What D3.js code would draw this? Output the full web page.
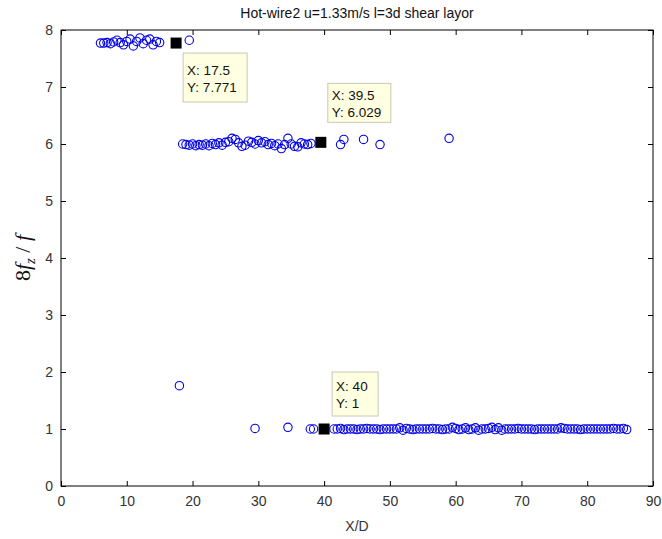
<!DOCTYPE html>
<html>
<head>
<meta charset="utf-8">
<script src="https://cdn.jsdelivr.net/npm/d3@7"></script>
<style>
  body { margin: 0; background: #fff; overflow: hidden; }
  svg { display: block; font-family: "Liberation Sans", Arial, sans-serif; }
</style>
</head>
<body>
<svg></svg>
<script>
const titleText = "Hot-wire2 u=1.33m/s l=3d shear layor";
const xLabelText = "X/D";

const xTicks = [0, 10, 20, 30, 40, 50, 60, 70, 80, 90];
const yTicks = [0, 1, 2, 3, 4, 5, 6, 7, 8];

// upper band, 8fz/f ~ 7.8
const highX = [6, 6.5, 7, 7.5, 8, 8.5, 9, 9.5, 10, 10.5, 11, 11.5, 12, 12.5, 13, 13.5, 14, 14.5, 15, 19.5];
const highY = [7.77, 7.77, 7.78, 7.76, 7.79, 7.82, 7.78, 7.74, 7.8, 7.84, 7.72, 7.8, 7.86, 7.76, 7.82, 7.84, 7.74, 7.8, 7.78, 7.82];

// middle band, 8fz/f ~ 6
const midX = [18.5, 19, 19.5, 20, 20.5, 21, 21.5, 22, 22.5, 23, 23.5, 24, 24.5, 25, 25.5, 26, 26.5, 27, 27.5, 28,
  28.5, 29, 29.5, 30, 30.5, 31, 31.5, 32, 32.5, 33, 33.5, 34, 34.5, 35, 35.5, 36, 36.5, 37, 37.5, 38,
  42.5, 43, 46, 48.5, 59];
const midY = [6.0, 5.99, 5.98, 6.0, 5.97, 5.99, 5.98, 6.0, 5.97, 6.01, 5.99, 6.02, 5.98, 6.03, 6.04, 6.1, 6.08, 6.02, 5.96, 5.98,
  6.05, 6.03, 6.0, 6.06, 6.02, 6.04, 5.99, 6.01, 5.97, 6.0, 5.92, 5.99, 6.1, 6.0, 5.96, 5.95, 6.02, 6.0, 5.99, 6.01,
  5.99, 6.08, 6.08, 5.99, 6.1];

// lower band, 8fz/f ~ 1
const lowX = [18, 29.5, 34.5, 37.9, 38.4,
  41.5, 42, 42.5, 43, 43.5, 44, 44.5, 45, 45.5, 46, 46.5, 47, 47.5, 48, 48.5, 49, 49.5, 50, 50.5, 51,
  51.5, 52, 52.5, 53, 53.5, 54, 54.5, 55, 55.5, 56, 56.5, 57, 57.5, 58, 58.5, 59, 59.5, 60, 60.5, 61,
  61.5, 62, 62.5, 63, 63.5, 64, 64.5, 65, 65.5, 66, 66.5, 67, 67.5, 68, 68.5, 69, 69.5, 70, 70.5, 71,
  71.5, 72, 72.5, 73, 73.5, 74, 74.5, 75, 75.5, 76, 76.5, 77, 77.5, 78, 78.5, 79, 79.5, 80, 80.5, 81,
  81.5, 82, 82.5, 83, 83.5, 84, 84.5, 85, 85.5, 86];
const lowY = [1.76, 1.01, 1.03, 1.0, 1.0,
  1.0, 1.0, 1.01, 0.99, 1.0, 1.0, 1.0, 0.99, 1.0, 1.0, 1.01, 1.0, 1.0, 1.0, 0.99, 1.0, 1.0, 1.0, 1.0, 1.0,
  1.02, 0.98, 1.01, 1.0, 0.99, 1.0, 1.0, 1.0, 1.0, 1.0, 1.01, 1.0, 1.0, 0.99, 1.0, 1.0, 1.03, 1.01, 0.99, 1.0,
  1.02, 0.99, 1.0, 1.02, 0.98, 1.0, 1.0, 1.01, 1.03, 0.99, 1.02, 0.98, 1.0, 1.0, 1.0, 1.0, 1.01, 1.0, 1.0, 1.0,
  1.0, 0.99, 1.0, 1.0, 1.0, 1.0, 1.0, 1.0, 1.0, 1.02, 1.01, 1.0, 1.0, 1.0, 1.0, 0.99, 1.0, 1.0, 1.0, 1.0,
  1.0, 1.0, 1.0, 1.0, 1.0, 1.01, 1.0, 1.0, 1.01, 0.99];

// data tips
const tipX = [17.5, 39.5, 40];
const tipY = [7.771, 6.029, 1];
const tipLabels = [["X: 17.5", "Y: 7.771"], ["X: 39.5", "Y: 6.029"], ["X: 40", "Y: 1"]];

// box placement relative to the marked point
const tipBoxes = [
  { dx: 7, dy: 10, w: 64, h: 49 },
  { dx: 7, dy: -59, w: 63, h: 39 },
  { dx: 8, dy: -57, w: 46, h: 44 },
];

const full_width = 662;
const full_height = 539;
const margin = { top: 30, right: 9, bottom: 53, left: 61 };
const innerWidth = full_width - margin.left - margin.right;
const innerHeight = full_height - margin.top - margin.bottom;

const svg = d3.select("svg").attr("width", full_width).attr("height", full_height);

const xScale = d3.scaleLinear().domain([0, 90]).range([0, innerWidth]);
const yScale = d3.scaleLinear().domain([0, 8]).range([innerHeight, 0]);

const chart = svg.append("g").attr("transform", `translate(${margin.left},${margin.top})`);

const points = []
  .concat(highX.map((x, i) => [x, highY[i]]))
  .concat(midX.map((x, i) => [x, midY[i]]))
  .concat(lowX.map((x, i) => [x, lowY[i]]));

chart
  .selectAll("circle.pt")
  .data(points)
  .enter()
  .append("circle")
  .attr("class", "pt")
  .attr("cx", (d) => xScale(d[0]))
  .attr("cy", (d) => yScale(d[1]))
  .attr("r", 4.2)
  .attr("fill", "none")
  .attr("stroke", "#0000e6")
  .attr("stroke-width", 1.1);

// axes, ticks pointing inward
const styleAxis = (g) => {
  g.select(".domain").remove();
  g.selectAll(".tick line").attr("stroke", "#000");
  g.selectAll(".tick text").attr("fill", "#333").style("font-size", "14px");
};

chart.append("g")
  .attr("transform", `translate(0,${innerHeight})`)
  .call(d3.axisBottom(xScale).tickValues(xTicks).tickSizeInner(-5).tickSizeOuter(0).tickPadding(10))
  .call(styleAxis)
  .attr("font-family", null);

chart.append("g")
  .call(d3.axisTop(xScale).tickValues(xTicks).tickSizeInner(-5).tickSizeOuter(0).tickFormat(""))
  .call(styleAxis);

chart.append("g")
  .call(d3.axisLeft(yScale).tickValues(yTicks).tickSizeInner(-5).tickSizeOuter(0).tickPadding(8))
  .call(styleAxis)
  .attr("font-family", null);

chart.append("g")
  .attr("transform", `translate(${innerWidth},0)`)
  .call(d3.axisRight(yScale).tickValues(yTicks).tickSizeInner(-5).tickSizeOuter(0).tickFormat(""))
  .call(styleAxis);

chart.append("rect")
  .attr("width", innerWidth)
  .attr("height", innerHeight)
  .attr("fill", "none")
  .attr("stroke", "#000")
  .attr("stroke-width", 1);

// data tips
const tips = chart
  .selectAll("g.tip")
  .data(tipX.map((x, i) => ({ x, y: tipY[i], lines: tipLabels[i], box: tipBoxes[i] })))
  .enter()
  .append("g")
  .attr("class", "tip");

tips.append("rect")
  .attr("x", (d) => xScale(d.x) - 5.5)
  .attr("y", (d) => yScale(d.y) - 5.5)
  .attr("width", 11)
  .attr("height", 11)
  .attr("fill", "#000");

const boxes = tips.append("g")
  .attr("transform", (d) => `translate(${xScale(d.x) + d.box.dx},${yScale(d.y) + d.box.dy})`);

boxes.append("rect")
  .attr("width", (d) => d.box.w)
  .attr("height", (d) => d.box.h)
  .attr("fill", "#ffffe1")
  .attr("stroke", "#c8c8b4")
  .attr("stroke-width", 1);

boxes.selectAll("text")
  .data((d) => d.lines.map((t, i) => ({ t, i, h: d.box.h })))
  .enter()
  .append("text")
  .attr("x", 4)
  .attr("y", (d) => d.h / 2 + (d.i === 0 ? -3 : 14))
  .attr("font-size", "13.5px")
  .attr("fill", "#111")
  .text((d) => d.t);

// title and labels
svg.append("text")
  .attr("x", margin.left + innerWidth / 2)
  .attr("y", 18)
  .attr("text-anchor", "middle")
  .attr("font-size", "14px")
  .attr("fill", "#111")
  .text(titleText);

svg.append("text")
  .attr("x", margin.left + innerWidth / 2)
  .attr("y", 531)
  .attr("text-anchor", "middle")
  .attr("font-size", "14px")
  .attr("fill", "#333")
  .text(xLabelText);

const yLabel = svg.append("text")
  .attr("transform", `translate(30,${margin.top + innerHeight / 2}) rotate(-90)`)
  .attr("text-anchor", "middle")
  .attr("font-family", "'Liberation Serif', 'DejaVu Serif', serif")
  .attr("font-size", "22px")
  .attr("fill", "#111");
yLabel.append("tspan").text("8");
yLabel.append("tspan").attr("font-style", "italic").text("f");
yLabel.append("tspan").attr("font-style", "italic").attr("font-size", "15px").attr("dy", 5).text("z");
yLabel.append("tspan").attr("dy", -5).text(" / ");
yLabel.append("tspan").attr("font-style", "italic").text("f");
</script>
</body>
</html>
